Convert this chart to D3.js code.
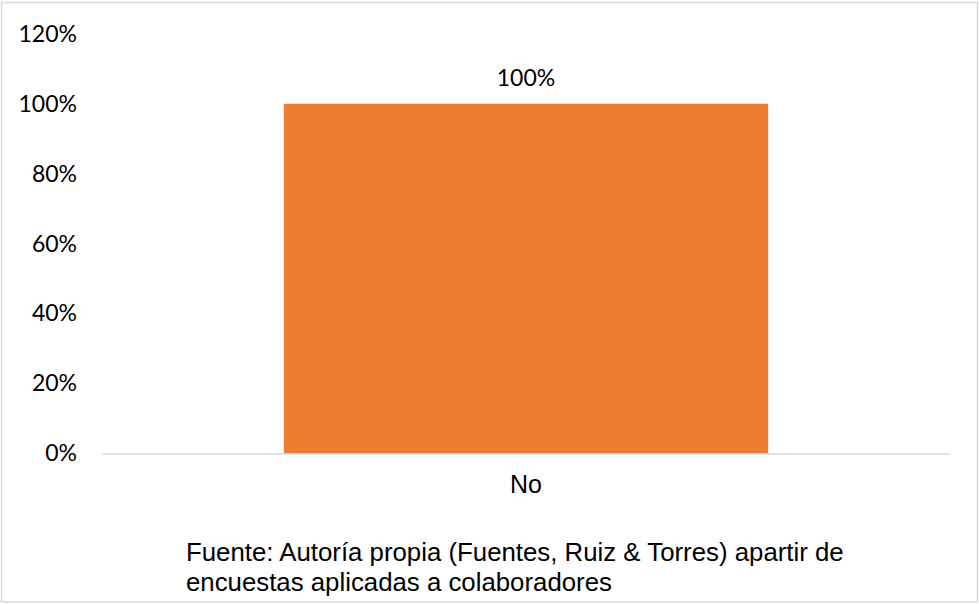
<!DOCTYPE html>
<html>
<head>
<meta charset="utf-8">
<script src="https://cdn.jsdelivr.net/npm/d3@7"></script>
<style>
  html, body { margin: 0; padding: 0; background: #fff; }
  svg { display: block; }
</style>
</head>
<body>
<div id="chart"></div>
<script>
// ── Données ─────────────────────────────────────────
const categories = ['No'];
const values     = [1.0];
const yTicks     = [0, 0.2, 0.4, 0.6, 0.8, 1.0, 1.2];
const footnote   = [
  'Fuente: Autoría propia (Fuentes, Ruiz & Torres) apartir de',
  'encuestas aplicadas a colaboradores'
];

const W = 979, H = 604;
const plot = { left: 102, right: 950, top: 33.8, bottom: 453.5 };
const tickFont = 'Lato, "Open Sans", sans-serif';
const textFont = '"Liberation Sans", Arial, sans-serif';

const svg = d3.select('#chart').append('svg')
  .attr('width', W).attr('height', H);

// cadre du graphique
svg.append('rect')
  .attr('x', 1.5).attr('y', 2.5)
  .attr('width', 976).attr('height', 599.5)
  .attr('fill', '#fff')
  .attr('stroke', '#d9d9d9').attr('stroke-width', 1.5);

const x = d3.scaleBand().domain(categories)
  .range([plot.left, plot.right]).padding(0.273);
const y = d3.scaleLinear().domain([0, 1.2])
  .range([plot.bottom, plot.top]);

// axe Y (textes seulement)
svg.append('g')
  .attr('transform', `translate(${plot.left},0)`)
  .call(d3.axisLeft(y).tickValues(yTicks).tickSize(0).tickPadding(25)
    .tickFormat(d3.format('.0%')))
  .call(g => g.select('.domain').remove())
  .selectAll('text')
  .attr('font-family', tickFont).attr('font-size', 23).attr('fill', '#000');

// barres
svg.selectAll('.bar')
  .data(categories).join('rect')
  .attr('class', 'bar')
  .attr('x', d => x(d))
  .attr('y', (d, i) => y(values[i]))
  .attr('width', x.bandwidth())
  .attr('height', (d, i) => plot.bottom - y(values[i]))
  .attr('fill', '#ED7D31');

// ligne de base
svg.append('g')
  .attr('transform', `translate(0,${plot.bottom})`)
  .call(d3.axisBottom(x).tickSize(0).tickPadding(22))
  .call(g => g.select('.domain')
    .attr('stroke', '#d9d9d9').attr('stroke-width', 1.5))
  .selectAll('text')
  .attr('font-family', textFont).attr('font-size', 25).attr('fill', '#000');

// étiquettes de valeur
svg.selectAll('.val')
  .data(categories).join('text')
  .attr('class', 'val')
  .attr('x', d => x(d) + x.bandwidth() / 2)
  .attr('y', (d, i) => y(values[i]) - 18)
  .attr('text-anchor', 'middle')
  .attr('font-family', tickFont).attr('font-size', 23).attr('fill', '#000')
  .text((d, i) => d3.format('.0%')(values[i]));

// source
svg.append('g').selectAll('text')
  .data(footnote).join('text')
  .attr('x', 186)
  .attr('y', (d, i) => 561 + i * 30)
  .attr('font-family', textFont).attr('font-size', 25.8).attr('fill', '#000')
  .text(d => d);
</script>
</body>
</html>
